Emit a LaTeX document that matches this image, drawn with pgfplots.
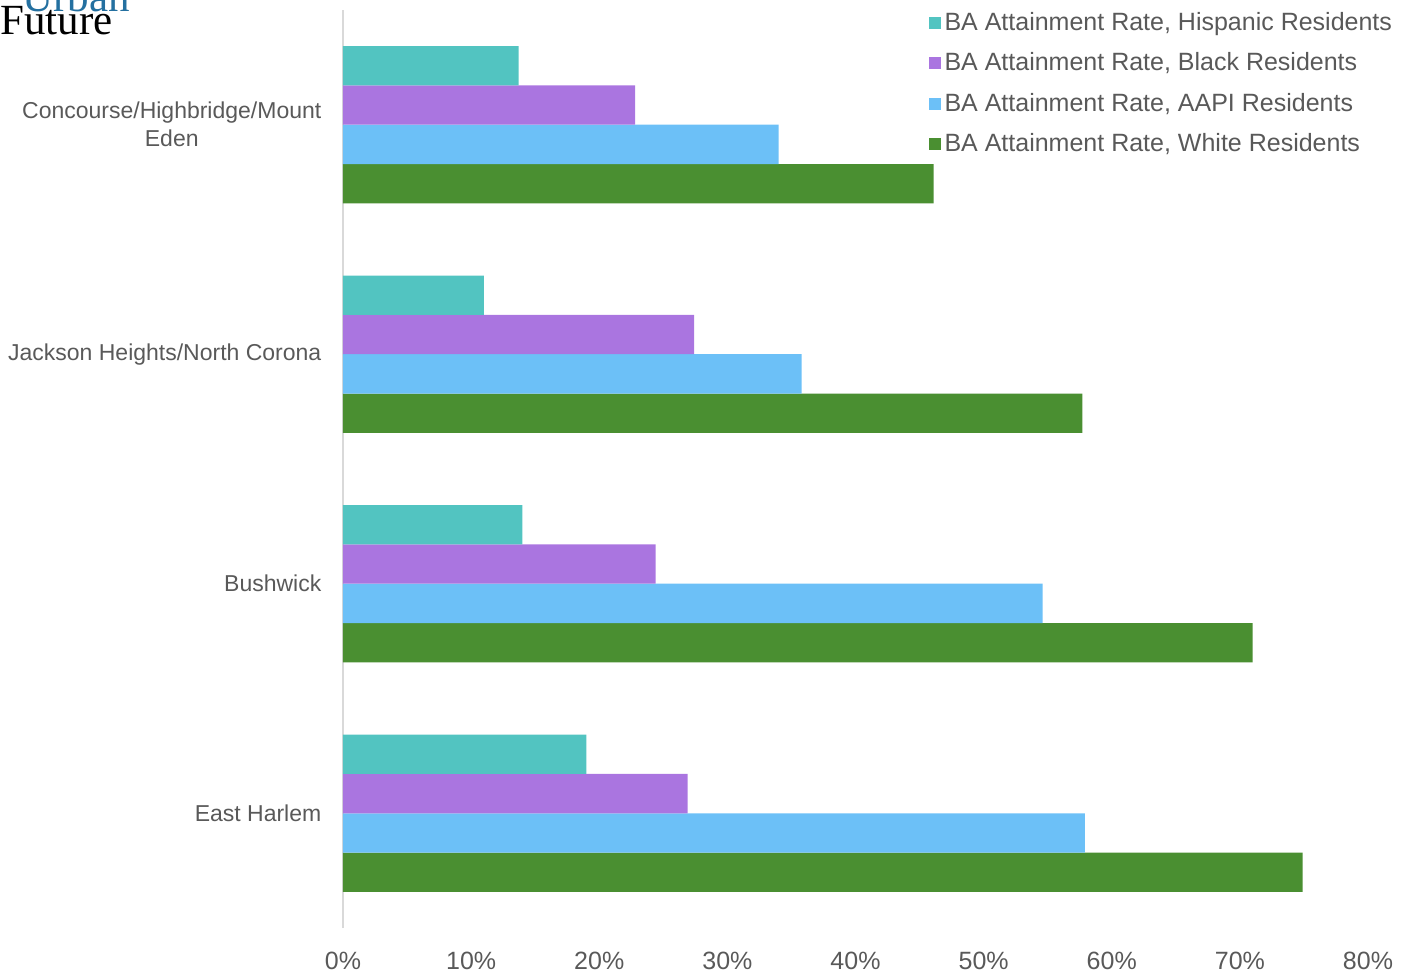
\documentclass[border=0pt]{standalone}
\usepackage{fontspec}
\setmainfont{Liberation Sans}
\newfontfamily\logofont{Liberation Serif}
\usepackage{pgfplots}
\pgfplotsset{compat=1.18}

\definecolor{hispc}{RGB}{82,196,193}
\definecolor{blackc}{RGB}{170,117,224}
\definecolor{aapic}{RGB}{108,192,247}
\definecolor{whitec}{RGB}{74,143,49}
\definecolor{labelgray}{RGB}{89,89,89}
\definecolor{axisgray}{RGB}{217,217,217}
\definecolor{urbanblue}{RGB}{36,112,160}

\begin{document}
\begin{tikzpicture}
\useasboundingbox (0,0) rectangle (704pt,487.5pt);
% logo, cut off at the top edge
\node[anchor=base west, inner sep=0, text=urbanblue, font=\logofont\fontsize{21.5}{21.5}\selectfont] at (11pt,481.5pt) {Urban};
\node[anchor=base west, inner sep=0, text=black, font=\logofont\fontsize{21.5}{21.5}\selectfont] at (0pt,470pt) {Future};

\begin{axis}[
  at={(171.5pt,23.5pt)}, anchor=south west,
  width=512.5pt, height=459pt, scale only axis,
  xbar=0pt, bar width=19.65pt,
  xmin=0, xmax=80, ymin=-0.5, ymax=3.5,
  axis lines=left, axis line style={-},
  x axis line style={draw=none},
  y axis line style={draw=axisgray, line width=0.75pt},
  major tick length=0pt,
  xtick={0,10,...,80},
  xticklabel={\pgfmathprintnumber{\tick}\%},
  /pgf/number format/assume math mode=true,
  xticklabel style={font=\fontsize{12.5}{14}\selectfont, text=labelgray, yshift=-8.3pt},
  ytick={0,1,2,3},
  yticklabels={East Harlem, Bushwick, Jackson Heights/North Corona, {Concourse/Highbridge/Mount\\Eden}},
  yticklabel style={font=\fontsize{11.5}{14}\selectfont, text=labelgray, align=center, xshift=-7.3pt},
  reverse legend,
  legend image code/.code={\fill[#1] (-2pt,-3pt) rectangle (4pt,3pt);},
  legend cell align=left,
  legend style={draw=none, fill=none, at={(0.565,1.007)}, anchor=north west,
    font=\fontsize{12.5}{14}\selectfont, text=labelgray, row sep=5.7pt},
]
\addplot[fill=whitec, draw=none] coordinates {(74.9,0) (71.0,1) (57.7,2) (46.1,3)};
\addplot[fill=aapic, draw=none] coordinates {(57.9,0) (54.6,1) (35.8,2) (34.0,3)};
\addplot[fill=blackc, draw=none] coordinates {(26.9,0) (24.4,1) (27.4,2) (22.8,3)};
\addplot[fill=hispc, draw=none] coordinates {(19.0,0) (14.0,1) (11.0,2) (13.7,3)};
\legend{{BA Attainment Rate, White Residents},
        {BA Attainment Rate, AAPI Residents},
        {BA Attainment Rate, Black Residents},
        {BA Attainment Rate, Hispanic Residents}}
\end{axis}
\end{tikzpicture}
\end{document}
